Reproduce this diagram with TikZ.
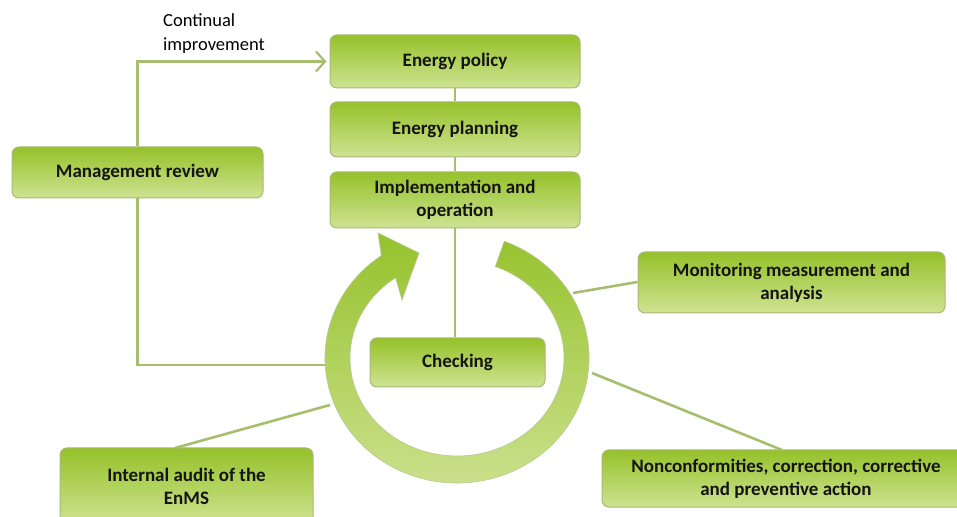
\documentclass[tikz,border=0pt]{standalone}
\usepackage{fontspec}
\setmainfont{Carlito}
\usetikzlibrary{arrows.meta,calc}
\definecolor{boxtop}{RGB}{150,193,42}
\definecolor{boxbot}{RGB}{206,227,146}
\definecolor{boxline}{RGB}{168,186,120}
\definecolor{conn}{RGB}{166,190,110}
\definecolor{ringtop}{RGB}{150,194,45}
\definecolor{ringbot}{RGB}{205,226,145}
\tikzset{
  stagebox/.style={rounded corners=7pt, top color=boxtop, bottom color=boxbot,
    draw=boxline, line width=1pt, font=\fontsize{19}{23}\selectfont\bfseries,
    align=center, inner sep=0pt, text=black!92},
  conline/.style={draw=conn, line width=2.6pt}
}
\begin{document}
\begin{tikzpicture}[x=1pt,y=1pt]
\useasboundingbox (0,0) rectangle (957,516);
\clip (0,0) rectangle (957,516);
% ring
\coordinate (c) at (457,158);
\shade[top color=ringtop, bottom color=ringbot, draw=boxline!80, line width=0.6pt]
  ($(c)+(69:132 and 125)$) arc[start angle=69, end angle=-235, x radius=132, y radius=125]
  -- (378,283) -- (419,263) -- (402,216)
  -- ($(c)+(-235:107 and 98)$) arc[start angle=-235, end angle=69, x radius=107, y radius=98]
  -- cycle;
% boxes
\node[stagebox, minimum width=250pt, minimum height=53pt] (policy) at (455,454.5) {Energy policy};
\node[stagebox, minimum width=250pt, minimum height=55pt] (planning) at (455,386.5) {Energy planning};
\node[stagebox, minimum width=250pt, minimum height=56pt] (impl) at (455,316) {Implementation and\\operation};
\node[stagebox, minimum width=175pt, minimum height=49pt] (checking) at (457.5,153.5) {Checking};
\node[stagebox, minimum width=251pt, minimum height=51pt] (mgmt) at (137.5,343.5) {Management review};
\node[stagebox, minimum width=307pt, minimum height=61pt] (monitor) at (791.5,233.5) {Monitoring measurement and\\analysis};
\node[stagebox, minimum width=368pt, minimum height=57pt] (noncon) at (786,37.5) {Nonconformities, correction, corrective\\and preventive action};
\node[stagebox, minimum width=253pt, minimum height=76pt] (audit) at (186.5,30) {Internal audit of the\\EnMS};
\node[anchor=north west, inner sep=0pt, align=left, font=\fontsize{18.5}{24}\selectfont] (ci) at (163,503) {Continual\\improvement};
% connector end points on the ring
\coordinate (ringL) at (325,151);
\coordinate (ringM) at (573,223);
\coordinate (ringN) at (592,143);
\coordinate (ringA) at (330,111);
% connectors
\draw[conline] (policy) -- (planning);
\draw[conline] (planning) -- (impl);
\draw[conline] (impl.south) -- (impl.south |- checking.north);
\draw[conline, -{Straight Barb[length=9pt, width=20pt, line width=2.2pt]}, shorten >=3pt] (mgmt.north) |- (policy.west);
\draw[conline] (mgmt.south) |- (ringL);
\draw[conline] (ringM) -- (monitor.west |- 0,234);
\draw[conline] (ringN) -- (782,66);
\draw[conline] (ringA) -- (175,68);
\end{tikzpicture}
\end{document}
